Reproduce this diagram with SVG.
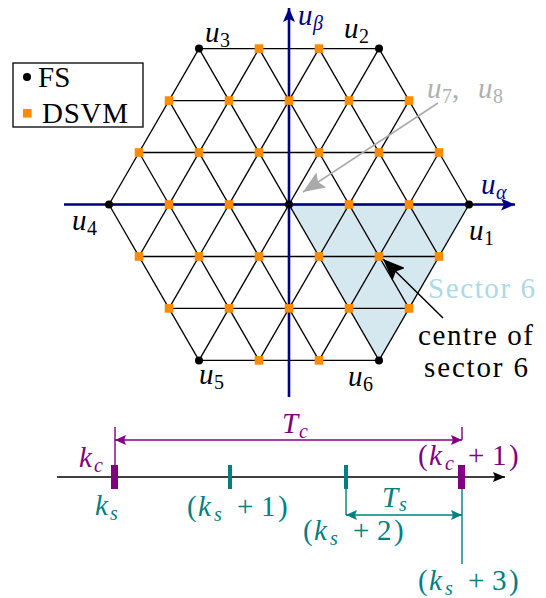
<svg xmlns="http://www.w3.org/2000/svg" width="546" height="598" viewBox="0 0 546 598">
<defs>
<style>
text{font-family:'Liberation Serif','DejaVu Serif',serif;font-size:29px;fill:#000}
.m{font-style:italic}
.sub{font-size:20px;font-style:italic}
.rm{font-style:normal}
.grid line{stroke:#000;stroke-width:1.3}
.sq{fill:#FF8C00}
.dot{fill:#000}
.ax{stroke:#000080;stroke-width:2.6;fill:none}
.pur{stroke:#800080;stroke-width:1.4;fill:none}
.tea{stroke:#008080;stroke-width:1.4;fill:none}
.nv{fill:#000080}
.gy{fill:#b0b0b0}
.pc{fill:#800080}
.tc{fill:#008080}
</style>
<marker id="axh" markerUnits="userSpaceOnUse" markerWidth="16" markerHeight="12" refX="14" refY="6" orient="auto"><path d="M0,0 L14,6 L0,12 L3,6 z" fill="#000080"/></marker>
<marker id="bkh" markerUnits="userSpaceOnUse" markerWidth="14" markerHeight="10" refX="12" refY="5" orient="auto"><path d="M0,0 L12,5 L0,10 L2,5 z" fill="#000"/></marker>
<marker id="ph" markerUnits="userSpaceOnUse" markerWidth="12" markerHeight="10" refX="11" refY="5" orient="auto-start-reverse"><path d="M0,0 L11,5 L0,10 L2,5 z" fill="#800080"/></marker>
<marker id="th" markerUnits="userSpaceOnUse" markerWidth="12" markerHeight="10" refX="11" refY="5" orient="auto-start-reverse"><path d="M0,0 L11,5 L0,10 L2,5 z" fill="#008080"/></marker>
<marker id="gh" markerUnits="userSpaceOnUse" markerWidth="24" markerHeight="18" refX="22" refY="9" orient="auto"><path d="M0,0 L22,9 L0,18 L4,9 z" fill="#aaaaaa"/></marker>
<marker id="kh" markerUnits="userSpaceOnUse" markerWidth="24" markerHeight="18" refX="22" refY="9" orient="auto"><path d="M0,0 L22,9 L0,18 L4,9 z" fill="#000"/></marker>
<rect id="s" x="-4.3" y="-4.3" width="8.6" height="8.6"/>
</defs>
<rect width="546" height="598" fill="#fff"/>

<g id="sector6">
<polygon points="289,204.5 469,204.5 379,360.4" fill="#d5e8ef"/>
</g>

<g id="grid" class="grid">
<g id="hlines">
<line x1="199" y1="48.6" x2="379" y2="48.6"/>
<line x1="169" y1="100.6" x2="409" y2="100.6"/>
<line x1="139" y1="152.5" x2="439" y2="152.5"/>
<line x1="109" y1="204.5" x2="469" y2="204.5"/>
<line x1="139" y1="256.5" x2="439" y2="256.5"/>
<line x1="169" y1="308.4" x2="409" y2="308.4"/>
<line x1="199" y1="360.4" x2="379" y2="360.4"/>
</g>
<use href="#hlines" transform="rotate(60 289 204.5)"/>
<use href="#hlines" transform="rotate(120 289 204.5)"/>
</g>

<g id="axes">
<line class="ax" x1="64" y1="204.5" x2="515" y2="204.5" marker-end="url(#axh)"/>
<line class="ax" x1="289" y1="397" x2="289" y2="8" marker-end="url(#axh)"/>
<text x="481" y="194" class="m nv">u</text><text x="496" y="199" class="sub nv">α</text>
<text x="298" y="25" class="m nv">u</text><text x="313" y="30" class="sub nv">β</text>
</g>

<g id="dsvm">
<g class="sq">
<use href="#s" x="259" y="48.6"/><use href="#s" x="319" y="48.6"/>
<use href="#s" x="169" y="100.6"/><use href="#s" x="229" y="100.6"/><use href="#s" x="289" y="100.6"/><use href="#s" x="349" y="100.6"/><use href="#s" x="409" y="100.6"/>
<use href="#s" x="139" y="152.5"/><use href="#s" x="199" y="152.5"/><use href="#s" x="259" y="152.5"/><use href="#s" x="319" y="152.5"/><use href="#s" x="379" y="152.5"/><use href="#s" x="439" y="152.5"/>
<use href="#s" x="169" y="204.5"/><use href="#s" x="229" y="204.5"/><use href="#s" x="349" y="204.5"/><use href="#s" x="409" y="204.5"/>
<use href="#s" x="139" y="256.5"/><use href="#s" x="199" y="256.5"/><use href="#s" x="259" y="256.5"/><use href="#s" x="319" y="256.5"/><use href="#s" x="379" y="256.5"/><use href="#s" x="439" y="256.5"/>
<use href="#s" x="169" y="308.4"/><use href="#s" x="229" y="308.4"/><use href="#s" x="289" y="308.4"/><use href="#s" x="349" y="308.4"/><use href="#s" x="409" y="308.4"/>
<use href="#s" x="259" y="360.4"/><use href="#s" x="319" y="360.4"/>
</g>
</g>

<g id="fs">
<circle class="dot" cx="469" cy="204.5" r="4"/>
<circle class="dot" cx="379" cy="48.6" r="4"/>
<circle class="dot" cx="199" cy="48.6" r="4"/>
<circle class="dot" cx="109" cy="204.5" r="4"/>
<circle class="dot" cx="199" cy="360.4" r="4"/>
<circle class="dot" cx="379" cy="360.4" r="4"/>
<circle class="dot" cx="289" cy="204.5" r="4"/>
</g>

<g id="vector-labels">
<text x="469" y="240" class="m">u</text><text x="484" y="245" class="sub rm">1</text>
<text x="344" y="38" class="m">u</text><text x="359" y="43" class="sub rm">2</text>
<text x="205" y="42" class="m">u</text><text x="220" y="47" class="sub rm">3</text>
<text x="72" y="230" class="m">u</text><text x="87" y="235" class="sub rm">4</text>
<text x="199" y="384" class="m">u</text><text x="214" y="389" class="sub rm">5</text>
<text x="348" y="386" class="m">u</text><text x="363" y="391" class="sub rm">6</text>
</g>

<g id="connectors">
<line x1="438" y1="103" x2="303" y2="192" stroke="#aaaaaa" stroke-width="1.5" marker-end="url(#gh)"/>
<line x1="443" y1="318" x2="383" y2="259" stroke="#000" stroke-width="1.5" marker-end="url(#kh)"/>
</g>

<g id="u78-label">
<text x="427" y="98" class="m gy">u</text><text x="442" y="103" class="sub rm gy">7</text><text x="452" y="98" class="gy">,</text>
<text x="478" y="98" class="m gy">u</text><text x="493" y="103" class="sub rm gy">8</text>
</g>

<g id="sector-label">
<text x="428" y="298" style="fill:#add8e6" textLength="107">Sector 6</text>
</g>
<g id="centre-label">
<text x="418" y="345" textLength="115">centre of</text>
<text x="424" y="377" textLength="104">sector 6</text>
</g>

<g id="legend">
<rect x="13" y="63" width="130" height="64" fill="#fff" stroke="#000" stroke-width="1.3"/>
<circle cx="27" cy="77" r="4" fill="#000"/>
<text x="38" y="87">FS</text>
<rect x="23" y="109" width="8.6" height="8.6" fill="#FF8C00"/>
<text x="42" y="123" textLength="86">DSVM</text>
</g>

<g id="timeline">
<line x1="57" y1="477" x2="505" y2="477" stroke="#000" stroke-width="1.3" marker-end="url(#bkh)"/>
<rect x="111" y="465" width="7" height="24" fill="#800080"/>
<rect x="458" y="465" width="7" height="24" fill="#800080"/>
<rect x="228" y="465" width="4" height="24" fill="#008080"/>
<rect x="344" y="465" width="4" height="24" fill="#008080"/>
<line class="pur" x1="115" y1="427" x2="115" y2="465"/>
<line class="pur" x1="462" y1="427" x2="462" y2="440"/>
<line class="pur" x1="115" y1="440" x2="462" y2="440" marker-start="url(#ph)" marker-end="url(#ph)"/>
<line class="tea" x1="346" y1="489" x2="346" y2="515"/>
<line class="tea" x1="462" y1="489" x2="462" y2="564"/>
<line class="tea" x1="346" y1="515" x2="462" y2="515" marker-start="url(#th)" marker-end="url(#th)"/>
</g>

<g id="timeline-labels">
<text x="282" y="433" class="m pc">T</text><text x="299" y="438" class="sub pc">c</text>
<text x="79" y="467" class="m pc">k</text><text x="94" y="472" class="sub pc">c</text>
<text x="95" y="515" class="m tc">k</text><text x="110" y="520" class="sub tc">s</text>
<text x="382" y="507" class="m tc">T</text><text x="399" y="511" class="sub tc">s</text>
<text y="516" class="tc"><tspan x="187">(</tspan><tspan x="198" font-style="italic">k</tspan><tspan x="214" dy="5" font-size="20" font-style="italic">s</tspan><tspan x="237" dy="-5">+</tspan><tspan x="261">1</tspan><tspan x="278">)</tspan></text>
<text y="540" class="tc"><tspan x="303">(</tspan><tspan x="314" font-style="italic">k</tspan><tspan x="330" dy="5" font-size="20" font-style="italic">s</tspan><tspan x="353" dy="-5">+</tspan><tspan x="377">2</tspan><tspan x="394">)</tspan></text>
<text y="590" class="tc"><tspan x="418">(</tspan><tspan x="429" font-style="italic">k</tspan><tspan x="445" dy="5" font-size="20" font-style="italic">s</tspan><tspan x="468" dy="-5">+</tspan><tspan x="492">3</tspan><tspan x="509">)</tspan></text>
<text y="465" class="pc"><tspan x="418">(</tspan><tspan x="429" font-style="italic">k</tspan><tspan x="445" dy="5" font-size="20" font-style="italic">c</tspan><tspan x="468" dy="-5">+</tspan><tspan x="492">1</tspan><tspan x="509">)</tspan></text>
</g>
</svg>
